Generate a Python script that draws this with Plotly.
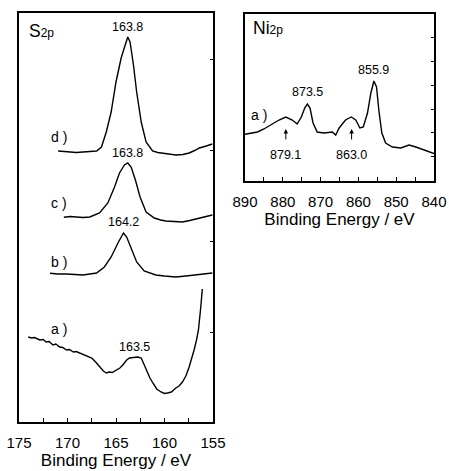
import plotly.graph_objects as go

# ---------------- data ----------------
# S2p spectra: binding energy (eV) and intensity (arbitrary, offset stacked)
s2p_d_energy = [170.97, 170.4, 169.77, 169.1, 168.4, 167.7, 167.0, 166.5, 166.0, 165.5, 165.0, 164.47,
                164.0, 163.79, 163.55, 163.2, 162.87, 162.4, 161.9, 161.23, 160.7, 160.2, 159.5, 158.83,
                158.1, 157.46, 156.9, 156.4, 155.7, 155.07]
s2p_d_intensity = [271, 270.5, 270, 269.5, 270, 270.5, 271, 275, 290, 310, 340, 364,
                   380, 385, 380, 357, 330, 300, 280, 271, 269.5, 269, 268, 267,
                   267.5, 269, 271.5, 274, 276, 278]

s2p_c_energy = [170.38, 169.7, 169.1, 168.4, 167.7, 166.7, 165.84, 165.15, 164.64, 164.13, 163.79,
                163.44, 163.0, 162.52, 161.9, 161.05, 160.4, 159.85, 159.0, 158.15, 157.4, 156.77,
                155.9, 155.07]
s2p_c_intensity = [204.7, 205.5, 205, 204.5, 205, 209, 219, 235, 249, 257, 259,
                   255, 242, 225, 210, 204, 202, 201, 200.5, 200, 201.5, 203,
                   205, 207]

s2p_b_energy = [171.8, 171.0, 170.1, 169.2, 168.4, 167.7, 167.0, 166.2, 165.5, 164.8, 164.23,
                163.9, 163.44, 162.87, 162.1, 160.9, 160.0, 158.83, 157.8, 156.8, 155.9, 155.07]
s2p_b_intensity = [148.7, 148, 148, 147.5, 147, 148, 149, 155, 165, 179, 189,
                   185, 174, 160, 151, 147, 146, 145, 146, 147, 148, 149]

s2p_a_energy = [174.05, 173.7, 173.4, 173.1, 172.85, 172.5, 172.2, 171.9, 171.5, 171.2, 170.8,
                170.5, 170.1, 169.8, 169.4, 169.1, 168.74, 168.4, 168.0, 167.5, 167.1, 166.7,
                166.3, 166.0, 165.7, 165.4, 164.98, 164.6, 164.3, 163.9, 163.6, 163.2, 162.76,
                162.4, 162.1, 161.9, 161.5, 161.2, 160.8, 160.36, 160.0, 159.7, 159.3, 158.83,
                158.5, 158.15, 157.8, 157.46, 157.2, 156.95, 156.7, 156.5, 156.26, 156.1]
s2p_a_intensity = [85, 84, 84.5, 83, 82, 82.5, 80, 80.5, 77, 78, 75,
                   74.5, 72, 72.5, 70, 70.5, 69, 68, 66.5, 64, 60, 55,
                   51, 49, 50, 49.5, 52, 54, 57, 62, 64, 64.5, 65,
                   64, 57, 52, 44, 39, 33, 30, 28.5, 29, 30, 34,
                   36, 40, 46, 55, 63, 72, 82, 92, 115, 133]

# Ni2p spectrum
ni_energy = [890.0, 888.3, 886.7, 885.0, 883.2, 881.0, 879.2, 877.5, 876.2, 875.1, 874.2, 873.5,
             872.8, 872.0, 870.9, 869.1, 866.9, 866.0, 865.1, 863.4, 861.9, 860.7, 859.6, 858.7,
             857.6, 856.7, 855.9, 855.2, 854.6, 853.8, 852.8, 851.0, 848.8, 846.6, 844.8, 842.6,
             840.9, 840.0]
ni_intensity = [46.7, 48, 49, 52, 56, 61, 64, 61, 57, 64, 73, 77,
                73, 58, 49, 48, 49, 46, 53, 61, 64, 61, 53, 54,
                68, 88, 100, 94, 71, 48, 38, 34, 33, 36, 34, 31,
                28, 27.5]

# axis ticks
s2p_tick_values = [175, 172.5, 170, 167.5, 165, 162.5, 160, 157.5, 155]
s2p_tick_text = ["175", "", "170", "", "165", "", "160", "", "155"]
ni_tick_values = [890, 885, 880, 875, 870, 865, 860, 855, 850, 845, 840]
ni_tick_text = ["890", "", "880", "", "870", "", "860", "", "850", "", "840"]

# ---------------- figure ----------------
W, H = 449, 471
FONT = "Liberation Sans, Arial, Helvetica, sans-serif"
line_style = dict(color="black", width=1.4)

fig = go.Figure()
for e, v in [(s2p_d_energy, s2p_d_intensity), (s2p_c_energy, s2p_c_intensity),
             (s2p_b_energy, s2p_b_intensity), (s2p_a_energy, s2p_a_intensity)]:
    fig.add_trace(go.Scatter(x=e, y=v, mode="lines", line=line_style,
                             xaxis="x", yaxis="y", showlegend=False, hoverinfo="skip"))
fig.add_trace(go.Scatter(x=ni_energy, y=ni_intensity, mode="lines", line=line_style,
                         xaxis="x2", yaxis="y2", showlegend=False, hoverinfo="skip"))

def xax(domain, rng, tv, tt):
    return dict(domain=domain, range=rng, tickvals=tv, ticktext=tt, ticks="inside",
                ticklen=4, tickwidth=1.2, tickcolor="black", showline=True, linecolor="black",
                linewidth=1.5, mirror=True, showgrid=False, zeroline=False, automargin=False,
                tickfont=dict(family=FONT, size=15, color="black"),
                title=dict(text="Binding Energy / eV", font=dict(family=FONT, size=17, color="black"),
                           standoff=4),
                ticklabelstandoff=6)

def yax(domain, rng, tick0, dtick, anchor):
    return dict(domain=domain, range=rng, side="right", anchor=anchor, tick0=tick0, dtick=dtick,
                ticks="inside", ticklen=3, tickwidth=1.2, tickcolor="black", showticklabels=False,
                showline=True, linecolor="black", linewidth=1.5, mirror=True, automargin=False,
                showgrid=False, zeroline=False)

fig.update_layout(
    width=W, height=H, margin=dict(l=0, r=0, t=0, b=0, autoexpand=False),
    paper_bgcolor="white", plot_bgcolor="white",
    xaxis=xax([19 / W, 213 / W], [175, 155], s2p_tick_values, s2p_tick_text) | dict(anchor="y"),
    yaxis=yax([49 / H, 458 / H], [0, 409], -1, 91, "x"),
    xaxis2=xax([245 / W, 434 / W], [890, 840], ni_tick_values, ni_tick_text) | dict(anchor="y2"),
    yaxis2=yax([290 / H, 457 / H], [0, 167], 0.5, 23.8, "x2"),
)

ann_font = dict(family=FONT, size=12.5, color="black")
lab_font = dict(family=FONT, size=14, color="black")
anns = []
def txt(x, y, t, ref="", font=ann_font, xanchor="center"):
    anns.append(dict(x=x, y=y, xref="x" + ref, yref="y" + ref, text=t, showarrow=False,
                     font=font, xanchor=xanchor, yanchor="middle"))

# S2p panel labels
txt(174.2, 391, "S<span style='font-size:12px'>2p</span>", font=dict(family=FONT, size=17.5, color="black"),
    xanchor="left")
txt(163.8, 395, "163.8")
txt(163.8, 269, "163.8")
txt(164.2, 200, "164.2")
txt(163.1, 75, "163.5")
for y, t in [(285, "d )"), (219, "c )"), (160, "b )"), (93, "a )")]:
    txt(170.9, y, t, font=lab_font)

# Ni2p panel labels
txt(888.4, 153, "Ni<span style='font-size:12px'>2p</span>", ref="2",
    font=dict(family=FONT, size=17.5, color="black"), xanchor="left")
txt(873.5, 89, "873.5", ref="2")
txt(855.9, 111, "855.9", ref="2")
txt(886.3, 66, "a )", ref="2", font=lab_font)
txt(879.2, 26, "879.1", ref="2")
txt(861.8, 26, "863.0", ref="2")
for xa in (879.2, 861.8):
    anns.append(dict(x=xa, y=52, xref="x2", yref="y2", text="", showarrow=True, ax=0, ay=12,
                     arrowhead=2, arrowsize=0.9, arrowwidth=1, arrowcolor="black"))

fig.update_layout(annotations=anns)
fig.write_html("out.html", config={"displayModeBar": False},
               post_script="document.body.style.margin='0';document.body.style.overflow='hidden';")
